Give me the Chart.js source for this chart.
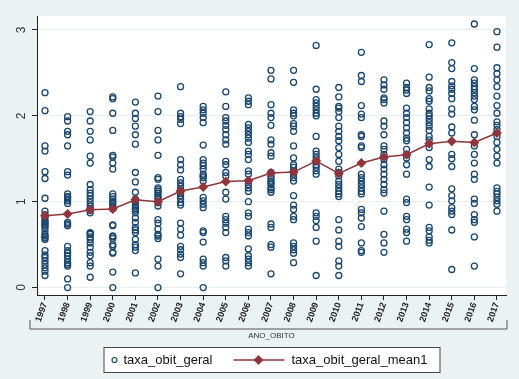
<!DOCTYPE html>
<html>
<head>
<meta charset="utf-8">
<script src="https://cdn.jsdelivr.net/npm/chart.js@4"></script>
<style>
  body { margin: 0; background: #eaf2f3; }
  canvas { display: block; }
</style>
</head>
<body>
<canvas id="chart" width="519" height="379"></canvas>
<script>
const anos = [1997, 1998, 1999, 2000, 2001, 2002, 2003, 2004, 2005, 2006, 2007,
              2008, 2009, 2010, 2011, 2012, 2013, 2014, 2015, 2016, 2017];

// taxa_obit_geral_mean1 (one value per year)
const media = [0.837, 0.857, 0.907, 0.915, 1.023, 1.0, 1.124, 1.171, 1.236, 1.244, 1.333,
               1.345, 1.473, 1.329, 1.45, 1.52, 1.547, 1.674, 1.705, 1.69, 1.80];

// taxa_obit_geral, one list per year (same order as anos)
const taxa = [
  [2.27,2.06,1.65,1.59,1.35,1.27,1.04,0.89,0.85,0.81,0.78,0.76,0.74,0.72,0.70,0.66,0.62,0.60,0.58,0.56,0.43,0.38,0.35,0.31,0.27,0.23,0.19,0.14],
  [1.99,1.94,1.82,1.78,1.65,1.35,1.31,1.09,1.06,1.05,1.03,1.01,0.98,0.76,0.74,0.72,0.48,0.43,0.40,0.37,0.33,0.29,0.27,0.25,0.10,0.0],
  [2.05,1.94,1.82,1.72,1.53,1.45,1.20,1.14,1.10,1.07,1.03,0.99,0.95,0.92,0.90,0.87,0.64,0.63,0.62,0.59,0.56,0.52,0.47,0.41,0.37,0.29,0.25,0.12],
  [2.22,2.20,2.03,1.83,1.54,1.52,1.45,1.38,1.09,1.06,1.03,1.00,0.98,0.95,0.92,0.73,0.72,0.60,0.59,0.57,0.50,0.48,0.41,0.40,0.18,0.0],
  [2.16,2.03,1.97,1.88,1.78,1.67,1.34,1.23,1.11,1.03,1.00,0.99,0.95,0.92,0.90,0.87,0.81,0.76,0.70,0.67,0.64,0.56,0.50,0.47,0.43,0.17],
  [2.23,2.05,1.83,1.72,1.54,1.28,1.26,1.16,1.14,1.12,1.10,1.07,1.05,1.03,0.99,0.95,0.79,0.75,0.68,0.62,0.60,0.57,0.33,0.25,0.0],
  [2.34,2.03,1.99,1.96,1.91,1.49,1.43,1.37,1.26,1.22,1.18,1.14,1.10,1.07,1.03,0.99,0.96,0.75,0.68,0.61,0.48,0.44,0.39,0.35,0.16],
  [2.11,2.07,2.03,1.98,1.92,1.66,1.49,1.45,1.42,1.38,1.32,1.30,1.28,1.24,1.05,1.01,0.97,0.93,0.66,0.64,0.53,0.33,0.29,0.25,0.0],
  [2.28,2.11,1.98,1.94,1.89,1.84,1.78,1.72,1.67,1.47,1.43,1.34,1.30,1.11,1.03,0.83,0.79,0.75,0.70,0.64,0.35,0.31,0.25],
  [2.21,2.17,2.13,1.90,1.86,1.82,1.78,1.74,1.69,1.59,1.55,1.49,1.36,1.32,1.24,1.20,1.16,1.12,1.00,0.87,0.83,0.68,0.64,0.60,0.45,0.37,0.33,0.29,0.25],
  [2.53,2.43,2.13,2.03,1.98,1.89,1.72,1.67,1.57,1.53,1.34,1.30,1.27,1.24,1.22,1.20,1.16,1.14,1.11,0.74,0.70,0.50,0.47,0.16],
  [2.53,2.39,2.07,2.03,2.00,1.91,1.88,1.82,1.65,1.51,1.43,1.40,1.36,1.32,1.28,1.24,1.07,0.96,0.91,0.83,0.79,0.52,0.48,0.44,0.40,0.29],
  [2.82,2.31,2.19,2.15,2.11,2.07,2.03,2.00,1.76,1.59,1.55,1.51,1.47,1.43,1.40,1.36,1.32,0.87,0.83,0.78,0.70,0.54,0.14],
  [2.33,2.22,2.11,2.09,2.05,1.98,1.88,1.82,1.76,1.71,1.63,1.55,1.47,1.38,1.34,1.30,1.24,1.20,1.16,1.12,1.09,1.06,0.79,0.67,0.54,0.48,0.31,0.25,0.14],
  [2.74,2.47,2.40,2.12,2.02,1.98,1.78,1.76,1.65,1.63,1.32,1.28,1.24,1.20,1.16,1.12,1.09,0.91,0.87,0.81,0.71,0.52,0.43,0.41],
  [2.42,2.36,2.31,2.21,2.19,2.15,1.94,1.88,1.78,1.65,1.61,1.55,1.49,1.43,1.38,1.32,1.26,1.20,1.14,1.10,0.89,0.62,0.52,0.41],
  [2.38,2.33,2.30,2.26,2.09,2.03,1.98,1.92,1.86,1.80,1.74,1.71,1.61,1.55,1.51,1.43,1.32,1.03,0.99,0.83,0.79,0.68,0.64,0.54],
  [2.83,2.45,2.33,2.29,2.20,2.17,2.08,2.03,2.00,1.96,1.92,1.88,1.83,1.76,1.72,1.63,1.49,1.41,1.17,0.96,0.70,0.66,0.59,0.55,0.52],
  [2.85,2.62,2.55,2.40,2.35,2.31,2.26,2.20,2.08,2.02,1.87,1.80,1.55,1.50,1.41,1.15,1.07,1.01,0.93,0.89,0.85,0.67,0.21],
  [3.07,2.55,2.42,2.38,2.34,2.31,2.27,2.23,2.19,2.11,2.07,1.95,1.78,1.65,1.55,1.45,1.32,1.26,1.03,0.98,0.85,0.79,0.76,0.59,0.25],
  [2.98,2.80,2.56,2.49,2.42,2.34,2.23,2.12,2.03,1.93,1.89,1.84,1.76,1.69,1.61,1.53,1.45,1.16,1.12,1.09,1.05,1.01,0.97,0.89]
];

const yTicks = [0, 1, 2, 3];
const xTitle = 'ANO_OBITO';
const nomes = ['taxa_obit_geral', 'taxa_obit_geral_mean1'];

const azul = '#1a476f';
const vinho = '#90353b';
const fundo = '#eaf2f3';

let pontos = [];
taxa.forEach((lista, i) => {
  lista.forEach(v => pontos.push({ x: anos[i], y: v }));
});
const linhaMedia = anos.map((a, i) => ({ x: a, y: media[i] }));

// backgrounds, y labels, bracket under x labels, legend box
const stataPlugin = {
  id: 'stata',
  beforeDraw(chart) {
    const ctx = chart.ctx;
    const a = chart.chartArea;
    ctx.save();
    ctx.fillStyle = fundo;
    ctx.fillRect(0, 0, chart.width, chart.height);
    ctx.fillStyle = '#ffffff';
    ctx.fillRect(a.left, a.top, a.right - a.left, a.bottom - a.top);
    ctx.restore();
  },
  afterDraw(chart) {
    const ctx = chart.ctx;
    const a = chart.chartArea;
    const ys = chart.scales.y;
    ctx.save();

    // y tick labels, vertical
    ctx.fillStyle = '#333';
    ctx.font = '12px "Liberation Sans", Arial, sans-serif';
    ctx.textAlign = 'center';
    ctx.textBaseline = 'middle';
    yTicks.forEach(t => {
      ctx.save();
      ctx.translate(a.left - 15, ys.getPixelForValue(t));
      ctx.rotate(-Math.PI / 2);
      ctx.fillText(String(t), 0, 0);
      ctx.restore();
    });

    // bracket line under the year labels
    const by = a.bottom + 34;
    ctx.strokeStyle = '#555';
    ctx.lineWidth = 1;
    ctx.beginPath();
    ctx.moveTo(a.left - 7, by - 9);
    ctx.lineTo(a.left - 7, by);
    ctx.lineTo(a.right + 1, by);
    ctx.lineTo(a.right + 1, by - 9);
    ctx.stroke();

    // legend
    const cx = (a.left + a.right) / 2;
    const top = 347, h = 25;
    const left = cx - 168, w = 336;
    ctx.fillStyle = '#ffffff';
    ctx.fillRect(left, top, w, h);
    ctx.strokeStyle = '#444';
    ctx.strokeRect(left + 0.5, top + 0.5, w, h);
    const my = top + h / 2 + 0.5;

    ctx.strokeStyle = azul;
    ctx.lineWidth = 1.2;
    ctx.beginPath();
    ctx.arc(left + 11, my, 2.5, 0, Math.PI * 2);
    ctx.stroke();

    ctx.strokeStyle = vinho;
    ctx.lineWidth = 1.5;
    ctx.beginPath();
    ctx.moveTo(left + 130, my);
    ctx.lineTo(left + 181, my);
    ctx.stroke();
    ctx.fillStyle = vinho;
    ctx.beginPath();
    ctx.moveTo(left + 155, my - 5);
    ctx.lineTo(left + 160, my);
    ctx.lineTo(left + 155, my + 5);
    ctx.lineTo(left + 150, my);
    ctx.closePath();
    ctx.fill();

    ctx.fillStyle = '#111';
    ctx.font = '13px "Liberation Sans", Arial, sans-serif';
    ctx.textAlign = 'left';
    ctx.textBaseline = 'middle';
    ctx.fillText(nomes[0], left + 20, my);
    ctx.fillText(nomes[1], left + 188, my);
    ctx.restore();
  }
};

new Chart(document.getElementById('chart'), {
  type: 'scatter',
  data: {
    datasets: [
      {
        label: nomes[1],
        type: 'line',
        data: linhaMedia,
        borderColor: vinho,
        borderWidth: 1.5,
        pointStyle: 'rectRot',
        pointRadius: 5,
        pointBackgroundColor: vinho,
        pointBorderColor: vinho,
        pointBorderWidth: 0,
        tension: 0,
        order: 0
      },
      {
        label: nomes[0],
        data: pontos,
        pointStyle: 'circle',
        pointRadius: 3,
        borderWidth: 1.3,
        borderColor: azul,
        backgroundColor: 'rgba(0,0,0,0)',
        order: 1
      }
    ]
  },
  options: {
    responsive: false,
    animation: false,
    layout: { padding: { top: 16, right: 13, bottom: 34, left: 0 } },
    plugins: {
      legend: { display: false },
      tooltip: { enabled: false }
    },
    scales: {
      x: {
        type: 'linear',
        min: 1996.646,
        max: 2017.4,
        afterFit: s => { s.height = 50; },
        grid: { drawOnChartArea: false, tickLength: 5, tickColor: '#222' },
        border: { color: '#222', width: 1 },
        ticks: {
          stepSize: 1,
          includeBounds: false,
          autoSkip: false,
          minRotation: 70,
          maxRotation: 70,
          padding: 1,
          color: '#222',
          font: { family: '"Liberation Sans", Arial, sans-serif', size: 9, weight: 'bold' },
          callback: v => Number.isInteger(v) ? String(v) : ''
        },
        title: {
          display: true,
          text: xTitle,
          color: '#333',
          font: { family: '"Liberation Sans", Arial, sans-serif', size: 8 },
          padding: { top: 0, bottom: 4 }
        }
      },
      y: {
        min: -0.087,
        max: 3.163,
        afterFit: s => { s.width = 37; },
        grid: { color: '#e6eef0', lineWidth: 1, tickLength: 5, tickColor: '#222' },
        border: { color: '#222', width: 1 },
        ticks: {
          stepSize: 1,
          includeBounds: false,
          display: false
        }
      }
    }
  },
  plugins: [stataPlugin]
});
</script>
</body>
</html>
